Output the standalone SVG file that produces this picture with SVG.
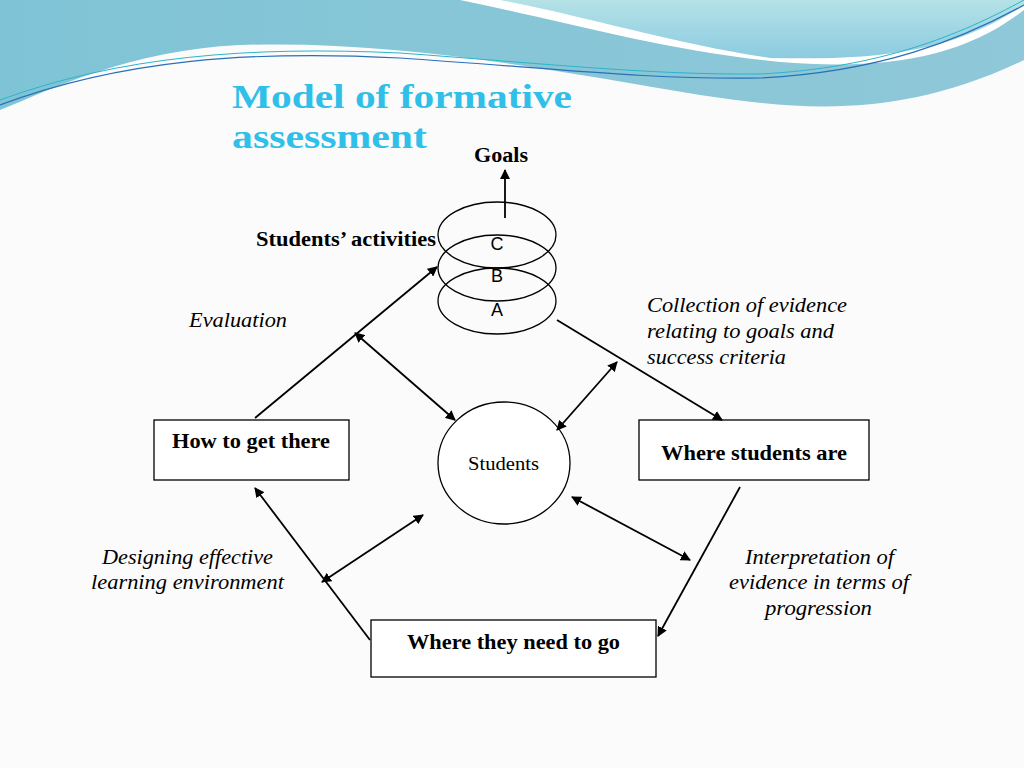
<svg xmlns="http://www.w3.org/2000/svg" width="1024" height="768" viewBox="0 0 1024 768">
<defs>
<marker id="ah" markerWidth="10" markerHeight="10" refX="9" refY="5" orient="auto-start-reverse" markerUnits="userSpaceOnUse"><path d="M0,0 L10,5 L0,10 z" fill="#000"/></marker>
<linearGradient id="bg1" x1="0" y1="0" x2="1" y2="0"><stop offset="0" stop-color="#7fc4d6"/><stop offset="1" stop-color="#8fc8d8"/></linearGradient>
<linearGradient id="bg2" x1="0" y1="0" x2="0" y2="1"><stop offset="0" stop-color="#b4e2e6"/><stop offset="1" stop-color="#8ccbe0"/></linearGradient>
</defs>
<style>
.b{fill:#fff;stroke:#000;stroke-width:1.3}
.l{stroke:#000;stroke-width:1.8;fill:none}
.bt{font-family:"Liberation Serif",serif;font-weight:bold;font-size:20px}
.it{font-family:"Liberation Serif",serif;font-style:italic;font-size:21px}
.s{font-family:"Liberation Sans",sans-serif;font-size:18px}
</style>
<rect width="1024" height="768" fill="#fbfbfb"/>
<g id="header">
<path d="M0,0 H1024 V60 C900,120 800,110 700,95 C550,70 400,40 240,45 C130,50 50,90 0,110 Z" fill="url(#bg1)"/>
<path d="M460,0 H1024 V10 C960,60 880,70 780,62 C660,50 560,20 460,0 Z" fill="#fff"/>
<path d="M500,0 H1024 V5 C950,55 870,60 770,58 C680,45 580,15 500,0 Z" fill="url(#bg2)"/>
<path d="M0,105 C120,60 250,50 400,58 C550,68 650,80 760,78 C880,72 960,40 1024,5" fill="none" stroke="#2a6fb8" stroke-width="1.2"/>
<path d="M0,100 C120,56 250,46 400,53 C550,64 650,75 760,74 C880,68 960,35 1024,0" fill="none" stroke="#2ab6c8" stroke-width="1"/>
<text x="232" y="108" font-family="Liberation Serif,serif" font-weight="bold" font-size="34" fill="#2fbfe8" textLength="340" lengthAdjust="spacingAndGlyphs">Model of  formative</text>
<text x="232" y="148" font-family="Liberation Serif,serif" font-weight="bold" font-size="34" fill="#2fbfe8" textLength="195" lengthAdjust="spacingAndGlyphs">assessment</text>
</g>
<g id="stack">
<ellipse cx="497" cy="235" rx="59" ry="33" fill="none" stroke="#000" stroke-width="1.3"/>
<ellipse cx="497" cy="268" rx="59" ry="33" fill="none" stroke="#000" stroke-width="1.3"/>
<ellipse cx="497" cy="301" rx="59" ry="33" fill="none" stroke="#000" stroke-width="1.3"/>
<text x="497" y="250" text-anchor="middle" class="s">C</text>
<text x="497" y="282" text-anchor="middle" class="s">B</text>
<text x="497" y="316" text-anchor="middle" class="s">A</text>
</g>
<g id="labels">
<text x="474" y="162" class="bt" textLength="54" lengthAdjust="spacingAndGlyphs">Goals</text>
<text x="256" y="246" class="bt" textLength="180" lengthAdjust="spacingAndGlyphs">Students’ activities</text>
<text x="189" y="327" class="it" textLength="98" lengthAdjust="spacingAndGlyphs">Evaluation</text>
<text x="647" y="312" class="it" textLength="200" lengthAdjust="spacingAndGlyphs">Collection of evidence</text>
<text x="647" y="338" class="it" textLength="187" lengthAdjust="spacingAndGlyphs">relating to goals and</text>
<text x="647" y="364" class="it" textLength="139" lengthAdjust="spacingAndGlyphs">success criteria</text>
<text x="102" y="564" class="it" textLength="171" lengthAdjust="spacingAndGlyphs">Designing effective</text>
<text x="91" y="589" class="it" textLength="193" lengthAdjust="spacingAndGlyphs">learning environment</text>
<text x="745" y="564" class="it" textLength="149" lengthAdjust="spacingAndGlyphs">Interpretation of</text>
<text x="729" y="589" class="it" textLength="180" lengthAdjust="spacingAndGlyphs">evidence in terms of</text>
<text x="765" y="615" class="it" textLength="107" lengthAdjust="spacingAndGlyphs">progression</text>
</g>
<g id="n-how"><rect x="154" y="420" width="195" height="60" class="b"/><text x="172" y="448" class="bt" textLength="158" lengthAdjust="spacingAndGlyphs">How to get there</text></g>
<g id="n-where"><rect x="639" y="420" width="230" height="60" class="b"/><text x="661" y="460" class="bt" textLength="186" lengthAdjust="spacingAndGlyphs">Where students are</text></g>
<g id="n-need"><rect x="371" y="620" width="285" height="57" class="b"/><text x="407" y="649" class="bt" textLength="213" lengthAdjust="spacingAndGlyphs">Where they need to go</text></g>
<g id="n-students"><ellipse cx="504" cy="463" rx="66" ry="61" class="b"/><text x="468" y="470" font-family="Liberation Serif,serif" font-size="18" textLength="71" lengthAdjust="spacingAndGlyphs">Students</text></g>
<g id="connectors">
<line x1="505" y1="218" x2="505" y2="170" class="l" marker-end="url(#ah)"/>
<line x1="255" y1="418" x2="437" y2="267" class="l" marker-end="url(#ah)"/>
<line x1="355" y1="333" x2="455" y2="420" class="l" marker-start="url(#ah)" marker-end="url(#ah)"/>
<line x1="617" y1="362" x2="557" y2="430" class="l" marker-start="url(#ah)" marker-end="url(#ah)"/>
<line x1="557" y1="320" x2="722" y2="420" class="l" marker-end="url(#ah)"/>
<line x1="740" y1="487" x2="658" y2="636" class="l" marker-end="url(#ah)"/>
<line x1="572" y1="497" x2="690" y2="560" class="l" marker-start="url(#ah)" marker-end="url(#ah)"/>
<line x1="423" y1="515" x2="322" y2="582" class="l" marker-start="url(#ah)" marker-end="url(#ah)"/>
<line x1="370" y1="640" x2="255" y2="488" class="l" marker-end="url(#ah)"/>
</g>
</svg>
